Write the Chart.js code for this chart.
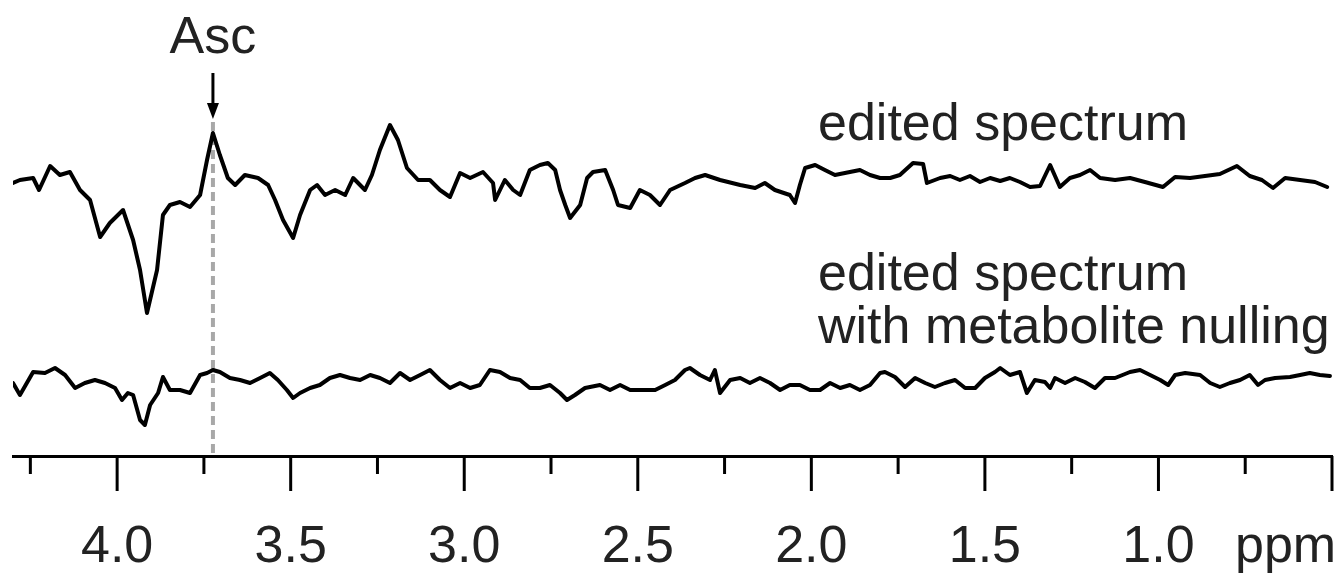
<!DOCTYPE html>
<html>
<head>
<meta charset="utf-8">
<script src="https://cdn.jsdelivr.net/npm/chart.js@4.4.1/dist/chart.umd.min.js"></script>
<style>
  html, body { margin: 0; padding: 0; background: #fff; }
  #wrap { width: 1337px; height: 574px; }
</style>
</head>
<body>
<div id="wrap"><canvas id="spec"></canvas></div>
<script>
// chemical shift (ppm) and intensity (a.u.)
var editedPpm = [4.300,4.280,4.242,4.225,4.193,4.165,4.136,4.107,4.078,4.049,4.021,3.983,3.954,3.934,3.914,3.885,3.868,3.848,3.819,3.790,3.761,3.741,3.724,3.704,3.681,3.660,3.632,3.594,3.565,3.545,3.522,3.493,3.473,3.444,3.424,3.401,3.372,3.343,3.320,3.286,3.266,3.243,3.214,3.191,3.165,3.133,3.099,3.070,3.041,3.012,2.983,2.946,2.917,2.911,2.883,2.859,2.839,2.811,2.782,2.759,2.738,2.724,2.709,2.695,2.666,2.646,2.629,2.594,2.571,2.557,2.522,2.494,2.465,2.436,2.407,2.364,2.335,2.306,2.263,2.205,2.162,2.134,2.105,2.062,2.047,2.033,2.018,1.989,1.961,1.932,1.889,1.860,1.831,1.802,1.773,1.745,1.707,1.678,1.667,1.629,1.600,1.572,1.543,1.514,1.485,1.456,1.428,1.399,1.370,1.341,1.312,1.284,1.255,1.226,1.197,1.168,1.125,1.082,1.039,0.987,0.952,0.909,0.866,0.823,0.774,0.737,0.702,0.670,0.635,0.592,0.549,0.514];
var editedVal = [0.0,0.3,0.5,-0.7,1.7,0.8,1.1,-0.7,-1.7,-5.4,-4.0,-2.7,-5.7,-8.7,-13.0,-8.7,-3.2,-2.2,-1.9,-2.4,-1.2,2.3,5.0,2.8,0.5,-0.2,0.8,0.5,-0.2,-1.7,-3.7,-5.5,-3.2,-0.7,-0.2,-1.2,-0.7,-1.2,0.5,-0.7,0.8,3.3,5.8,4.3,1.5,0.3,0.3,-0.7,-1.4,1.0,0.5,1.1,0.0,-1.7,0.3,-0.7,-1.2,1.3,1.8,2.0,1.3,-0.7,-2.2,-3.5,-2.2,0.5,1.1,1.3,-0.7,-2.2,-2.5,-0.7,-1.2,-2.2,-0.7,0.0,0.5,0.8,0.3,-0.2,-0.5,0.0,-0.7,-1.2,-2.0,-0.2,1.5,1.8,1.3,0.8,1.1,1.3,0.8,0.5,0.5,0.8,2.0,1.9,0.0,0.5,0.7,0.3,0.7,0.1,0.5,0.2,0.5,0.1,-0.4,-0.3,1.8,-0.4,0.5,0.8,1.3,0.5,0.3,0.5,0.1,-0.4,0.6,0.5,0.7,0.9,1.7,0.7,0.3,-0.5,0.5,0.3,0.1,-0.4];

var nulledPpm = [4.300,4.280,4.242,4.208,4.179,4.150,4.121,4.093,4.064,4.035,4.006,3.986,3.969,3.954,3.934,3.920,3.905,3.882,3.868,3.848,3.819,3.790,3.761,3.741,3.724,3.704,3.675,3.646,3.617,3.588,3.560,3.537,3.511,3.493,3.473,3.444,3.416,3.387,3.358,3.329,3.300,3.271,3.243,3.214,3.185,3.156,3.127,3.099,3.070,3.041,3.012,2.983,2.955,2.926,2.897,2.868,2.839,2.811,2.782,2.753,2.724,2.704,2.681,2.652,2.609,2.580,2.551,2.522,2.494,2.450,2.421,2.393,2.364,2.350,2.321,2.292,2.278,2.263,2.234,2.205,2.177,2.148,2.119,2.090,2.062,2.033,2.004,1.975,1.946,1.917,1.889,1.860,1.831,1.802,1.788,1.759,1.730,1.701,1.672,1.644,1.615,1.586,1.557,1.528,1.500,1.471,1.456,1.428,1.399,1.379,1.356,1.327,1.312,1.298,1.269,1.240,1.212,1.183,1.154,1.125,1.082,1.053,1.024,0.995,0.972,0.952,0.923,0.880,0.851,0.823,0.794,0.765,0.737,0.713,0.693,0.664,0.621,0.592,0.564,0.535,0.506];
var nulledVal = [-0.3,-1.5,0.8,0.7,1.2,0.5,-0.8,-0.3,0.0,-0.3,-0.8,-2.0,-1.3,-1.5,-4.0,-4.5,-2.5,-1.3,0.3,-1.0,-1.0,-1.3,0.5,0.7,1.0,0.8,0.2,0.0,-0.3,0.2,0.7,0.0,-1.0,-1.8,-1.3,-0.8,-0.5,0.2,0.5,0.2,0.0,0.5,0.2,-0.3,0.7,0.0,0.5,1.0,0.0,-0.8,-0.3,-0.8,-0.5,1.0,0.8,0.2,0.0,-0.8,-0.8,-0.5,-1.3,-2.0,-1.5,-0.8,-0.5,-1.0,-0.5,-1.0,-1.0,-1.0,-0.5,0.0,1.0,1.2,0.5,0.0,1.0,-1.3,0.0,0.2,-0.3,0.2,-0.3,-1.0,-0.5,-0.5,-1.0,-1.0,-0.3,-0.8,-0.5,-1.0,-0.5,0.7,0.8,0.3,-0.7,0.2,-0.3,-0.7,-0.3,0.0,-0.8,-0.8,0.2,0.8,1.2,0.5,0.8,-1.3,0.0,-0.2,-0.8,0.2,-0.3,0.2,-0.2,-0.8,0.2,0.2,0.8,1.0,0.5,0.0,-0.5,0.5,0.7,0.5,-0.3,-0.7,-0.3,0.0,0.5,-0.5,0.0,0.2,0.3,0.5,0.7,0.5,0.4];

var traceOffset = [19.7, 0];          // vertical stacking of the two traces
var ascPpm = 3.724;                     // ascorbate marker
var axisMin = 0.5, axisMax = 4.3;
var tickStep = 0.25;
var traceLabels = [["edited spectrum"], ["edited spectrum", "with metabolite nulling"]];

Chart.defaults.font.family = "'Liberation Sans', Arial, sans-serif";

function toPoints(xs, ys, off) {
  var pts = [];
  for (var i = 0; i < xs.length; i++) pts.push({x: xs[i], y: ys[i] + off});
  return pts;
}
function isMajor(v) {
  return Math.abs(v * 2 - Math.round(v * 2)) < 1e-6;
}

var decor = {
  id: 'decor',
  beforeDatasetsDraw: function(chart) {
    var ctx = chart.ctx, xs = chart.scales.x, area = chart.chartArea;
    var px = xs.getPixelForValue(ascPpm);
    ctx.save();
    ctx.strokeStyle = '#a8a8a8';
    ctx.lineWidth = 4;
    ctx.setLineDash([9, 5]);
    ctx.beginPath();
    ctx.moveTo(px, 122);
    ctx.lineTo(px, area.bottom);
    ctx.stroke();
    ctx.restore();
  },
  afterDraw: function(chart) {
    var ctx = chart.ctx, xs = chart.scales.x, area = chart.chartArea;
    ctx.save();
    // tick marks: long at every 0.5 ppm, short in between
    ctx.strokeStyle = '#000';
    ctx.lineWidth = 3;
    xs.ticks.forEach(function(t) {
      var p = xs.getPixelForValue(t.value);
      var len = isMajor(t.value) ? 35 : 18;
      ctx.beginPath();
      ctx.moveTo(p, area.bottom);
      ctx.lineTo(p, area.bottom + len);
      ctx.stroke();
    });
    // Asc arrow
    var px = xs.getPixelForValue(ascPpm);
    ctx.lineWidth = 3;
    ctx.beginPath();
    ctx.moveTo(px, 73);
    ctx.lineTo(px, 108);
    ctx.stroke();
    ctx.fillStyle = '#000';
    ctx.beginPath();
    ctx.moveTo(px - 6, 103);
    ctx.lineTo(px + 6, 103);
    ctx.lineTo(px, 119);
    ctx.closePath();
    ctx.fill();
    // texts
    ctx.fillStyle = '#222';
    ctx.font = "52px 'Liberation Sans', Arial, sans-serif";
    ctx.textBaseline = 'alphabetic';
    ctx.textAlign = 'center';
    ctx.fillText('Asc', px, 53);
    ctx.textAlign = 'left';
    ctx.fillText(traceLabels[0][0], 818, 140);
    ctx.fillText(traceLabels[1][0], 818, 290);
    ctx.fillText(traceLabels[1][1], 818, 343);
    ctx.fillText('ppm', 1235, 562);
    ctx.restore();
  }
};

new Chart(document.getElementById('spec'), {
  type: 'line',
  data: {
    datasets: [
      { label: 'edited spectrum', data: toPoints(editedPpm, editedVal, traceOffset[0]) },
      { label: 'edited spectrum with metabolite nulling', data: toPoints(nulledPpm, nulledVal, traceOffset[1]) }
    ]
  },
  plugins: [decor],
  options: {
    responsive: true,
    maintainAspectRatio: false,
    animation: false,
    events: [],
    layout: { padding: { left: 13, right: 5, top: 0, bottom: 0 } },
    elements: {
      line: { borderColor: '#000', borderWidth: 4, tension: 0, borderJoinStyle: 'round', borderCapStyle: 'round' },
      point: { radius: 0 }
    },
    plugins: { legend: { display: false }, tooltip: { enabled: false } },
    scales: {
      x: {
        type: 'linear',
        reverse: true,
        min: axisMin,
        max: axisMax,
        border: { display: true, color: '#000', width: 3 },
        grid: {
          display: true,
          drawOnChartArea: false,
          drawTicks: true,
          tickLength: 66,
          tickColor: 'rgba(0,0,0,0)'
        },
        ticks: {
          stepSize: tickStep,
          includeBounds: false,
          autoSkip: false,
          maxRotation: 0,
          padding: 0,
          color: '#222',
          font: { size: 52, lineHeight: 1.0 },
          callback: function(v) {
            return (isMajor(v) && v > axisMin) ? v.toFixed(1) : '';
          }
        }
      },
      y: { display: false, min: -7.6, max: 38.0 }
    }
  }
});
</script>
</body>
</html>
